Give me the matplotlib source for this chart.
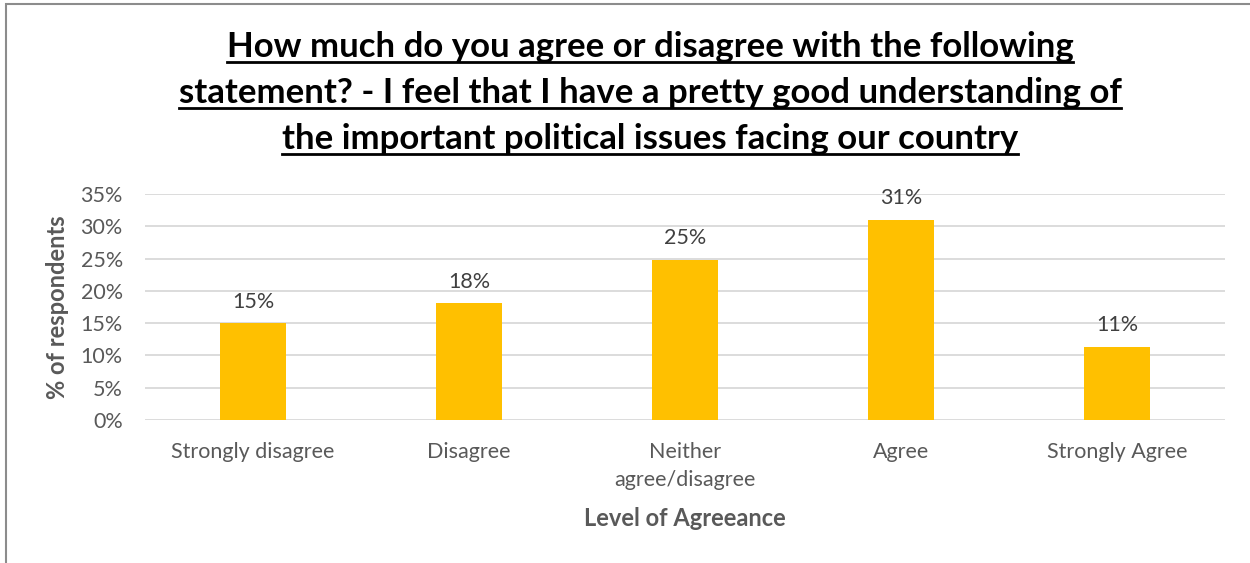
import matplotlib
matplotlib.use("Agg")
import matplotlib.pyplot as plt
from matplotlib.patches import Rectangle
from matplotlib.lines import Line2D

# survey responses
categories = ["Strongly disagree", "Disagree", "Neither\nagree/disagree", "Agree", "Strongly Agree"]
shares = [15.0, 18.1, 24.8, 31.0, 11.3]
y_ticks = [0, 5, 10, 15, 20, 25, 30, 35]
title_lines = [
    "How much do you agree or disagree with the following",
    "statement? - I feel that I have a pretty good understanding of",
    "the important political issues facing our country",
]

plt.rcParams["font.family"] = ["Lato", "DejaVu Sans"]
grey = "#595959"

fig = plt.figure(figsize=(12.5, 5.63), dpi=100)
ax = fig.add_axes([145 / 1250, 1 - 420 / 563, 1080 / 1250, 226 / 563])

x = list(range(len(categories)))
ax.bar(x, shares, width=0.31, color="#FFC000", zorder=3)
for xi, v in zip(x, shares):
    ax.text(xi, v + 1.8, "{:.0f}%".format(v), ha="center", va="bottom",
            fontsize=15.5, color="#404040")

ax.set_xlim(-0.5, len(categories) - 0.5)
ax.set_ylim(0, 35)
ax.set_yticks(y_ticks)
ax.set_yticklabels(["{}%".format(t) for t in y_ticks], fontsize=15.5, color=grey)
ax.set_xticks(x)
ax.set_xticklabels(categories, fontsize=15.5, color=grey, linespacing=1.5)
ax.tick_params(length=0)
ax.tick_params(axis="x", pad=16)
ax.tick_params(axis="y", pad=16)
ax.grid(axis="y", color="#D9D9D9", linewidth=1.3, zorder=0)
for s in ax.spines.values():
    s.set_visible(False)

ax.set_ylabel("% of respondents", fontsize=17, fontweight="bold", color=grey, labelpad=8)
ax.set_xlabel("Level of Agreeance", fontsize=17, fontweight="bold", color=grey, labelpad=12)

# title, one text per line so each gets its own underline
title_texts = []
for i, line in enumerate(title_lines):
    t = fig.text(0.52, 1 - (57 + i * 46) / 563, line, ha="center", va="baseline",
                 fontsize=25, fontweight="bold", color="black")
    title_texts.append(t)

fig.canvas.draw()
renderer = fig.canvas.get_renderer()
for t in title_texts:
    bb = t.get_window_extent(renderer).transformed(fig.transFigure.inverted())
    _, ybase = fig.transFigure.inverted().transform(
        t.get_transform().transform(t.get_position()))
    yl = ybase - 5 / 563
    fig.add_artist(Line2D([bb.x0, bb.x1], [yl, yl], transform=fig.transFigure,
                          color="black", linewidth=2))

# outer chart frame
fig.add_artist(Rectangle((6 / 1250, -0.01), 1.0, 1 - 4 / 563 + 0.01, transform=fig.transFigure,
                         fill=False, edgecolor="#8C8C8C", linewidth=1.5))

fig.savefig("out.png", dpi=100)
